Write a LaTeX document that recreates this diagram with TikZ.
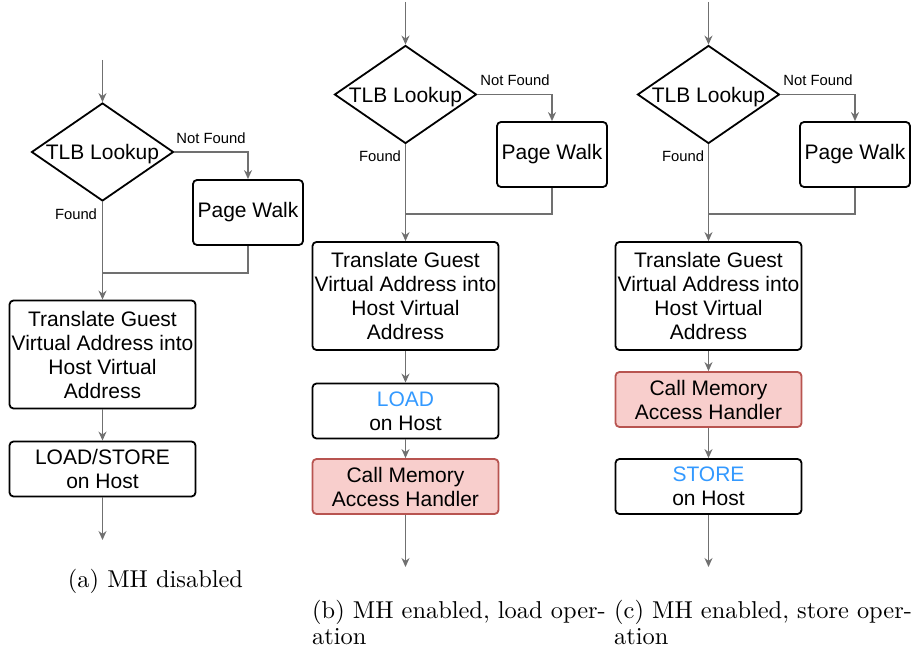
\documentclass[tikz,border=0pt]{standalone}
\usepackage{fontspec}
\usepackage{graphicx}
\newfontfamily\hv{Liberation Sans}
\usetikzlibrary{shapes.geometric,arrows.meta}
\definecolor{lngray}{RGB}{112,112,112}
\definecolor{pinkfill}{RGB}{248,206,204}
\definecolor{pinkdraw}{RGB}{184,84,80}
\definecolor{opblue}{RGB}{51,153,255}
\newcommand{\capt}[1]{\scalebox{2.44}{\fontsize{10}{11}\selectfont\begin{tabular}[t]{@{}l@{}}#1\end{tabular}}}
\begin{document}
\begin{tikzpicture}[x=1pt,y=-1pt,
  box/.style={draw=black, line width=1.8pt, rounded corners=4pt, minimum width=186pt, align=center, inner sep=0pt, font=\hv\fontsize{21}{24}\selectfont},
  tallbox/.style={box, minimum height=108pt},
  shortbox/.style={box, minimum height=55pt},
  handler/.style={shortbox, draw=pinkdraw, fill=pinkfill},
  pwbox/.style={box, minimum width=110pt, minimum height=65pt},
  decide/.style={diamond, draw=black, line width=1.8pt, inner sep=0pt, aspect=1.45, minimum width=142pt, minimum height=98pt, text depth=0pt, font=\hv\fontsize{21}{24}\selectfont},
  lbl/.style={inner sep=0pt, font=\hv\fontsize{14.8}{17}\selectfont},
  arr/.style={draw=lngray, line width=1.3pt, -{Stealth[length=9pt,width=8pt]}},
  ln/.style={draw=lngray, line width=1.3pt},
  captext/.style={inner sep=0pt}
]
\useasboundingbox (0,0) rectangle (914,652);

% ---------- panel (a) ----------
\coordinate (a0) at (102.5,60);
\node[decide] (ad) at (102.5,152) {TLB Lookup};
\node[lbl] (anf) at (211,138) {Not Found};
\node[pwbox] (apw) at (248,212.5) {Page Walk};
\node[lbl] (afd) at (76,214) {Found};
\coordinate (aj) at (102.5,273);
\node[tallbox] (atr) at (102.5,354.5) {Translate Guest\\Virtual Address into\\Host Virtual\\Address};
\node[shortbox] (als) at (102.5,469) {LOAD/STORE\\on Host};
\coordinate (aend) at (102.5,540);
\draw[arr] (a0) -- (ad.north);
\draw[arr] (ad.east) -| (apw.north);
\draw[arr] (ad.south) -- (atr.north);
\draw[ln] (apw.south) |- (aj);
\draw[arr] (atr.south) -- (als.north);
\draw[arr] (als.south) -- (aend);
\node[captext, anchor=base] (capa) at (155.5,587) {\capt{(a) MH disabled}};

% ---------- panel (b) ----------
\coordinate (b0) at (405.5,2);
\node[decide] (bd) at (405.5,94.5) {TLB Lookup};
\node[lbl] (bnf) at (515,80) {Not Found};
\node[pwbox] (bpw) at (552,154.5) {Page Walk};
\node[lbl] (bfd) at (380,156) {Found};
\coordinate (bj) at (405.5,214);
\node[tallbox] (btr) at (405.5,296) {Translate Guest\\Virtual Address into\\Host Virtual\\Address};
\node[shortbox] (bld) at (405.5,411) {\textcolor{opblue}{LOAD}\\on Host};
\node[handler] (bh) at (405.5,486.5) {Call Memory\\Access Handler};
\coordinate (bend) at (405.5,567);
\draw[arr] (b0) -- (bd.north);
\draw[arr] (bd.east) -| (bpw.north);
\draw[arr] (bd.south) -- (btr.north);
\draw[ln] (bpw.south) |- (bj);
\draw[arr] (btr.south) -- (bld.north);
\draw[arr] (bld.south) -- (bh.north);
\draw[arr] (bh.south) -- (bend);
\node[captext, anchor=base west] (capb) at (312,618) {\capt{(b) MH enabled, load oper-\\ation}};

% ---------- panel (c) ----------
\coordinate (c0) at (708.5,2);
\node[decide] (cd) at (708.5,94.5) {TLB Lookup};
\node[lbl] (cnf) at (818,80) {Not Found};
\node[pwbox] (cpw) at (855,154.5) {Page Walk};
\node[lbl] (cfd) at (683,156) {Found};
\coordinate (cj) at (708.5,214);
\node[tallbox] (ctr) at (708.5,296) {Translate Guest\\Virtual Address into\\Host Virtual\\Address};
\node[handler] (ch) at (708.5,399.5) {Call Memory\\Access Handler};
\node[shortbox] (cst) at (708.5,486.5) {\textcolor{opblue}{STORE}\\on Host};
\coordinate (cend) at (708.5,567);
\draw[arr] (c0) -- (cd.north);
\draw[arr] (cd.east) -| (cpw.north);
\draw[arr] (cd.south) -- (ctr.north);
\draw[ln] (cpw.south) |- (cj);
\draw[arr] (ctr.south) -- (ch.north);
\draw[arr] (ch.south) -- (cst.north);
\draw[arr] (cst.south) -- (cend);
\node[captext, anchor=base west] (capc) at (614,618) {\capt{(c) MH enabled, store oper-\\ation}};
\end{tikzpicture}
\end{document}
